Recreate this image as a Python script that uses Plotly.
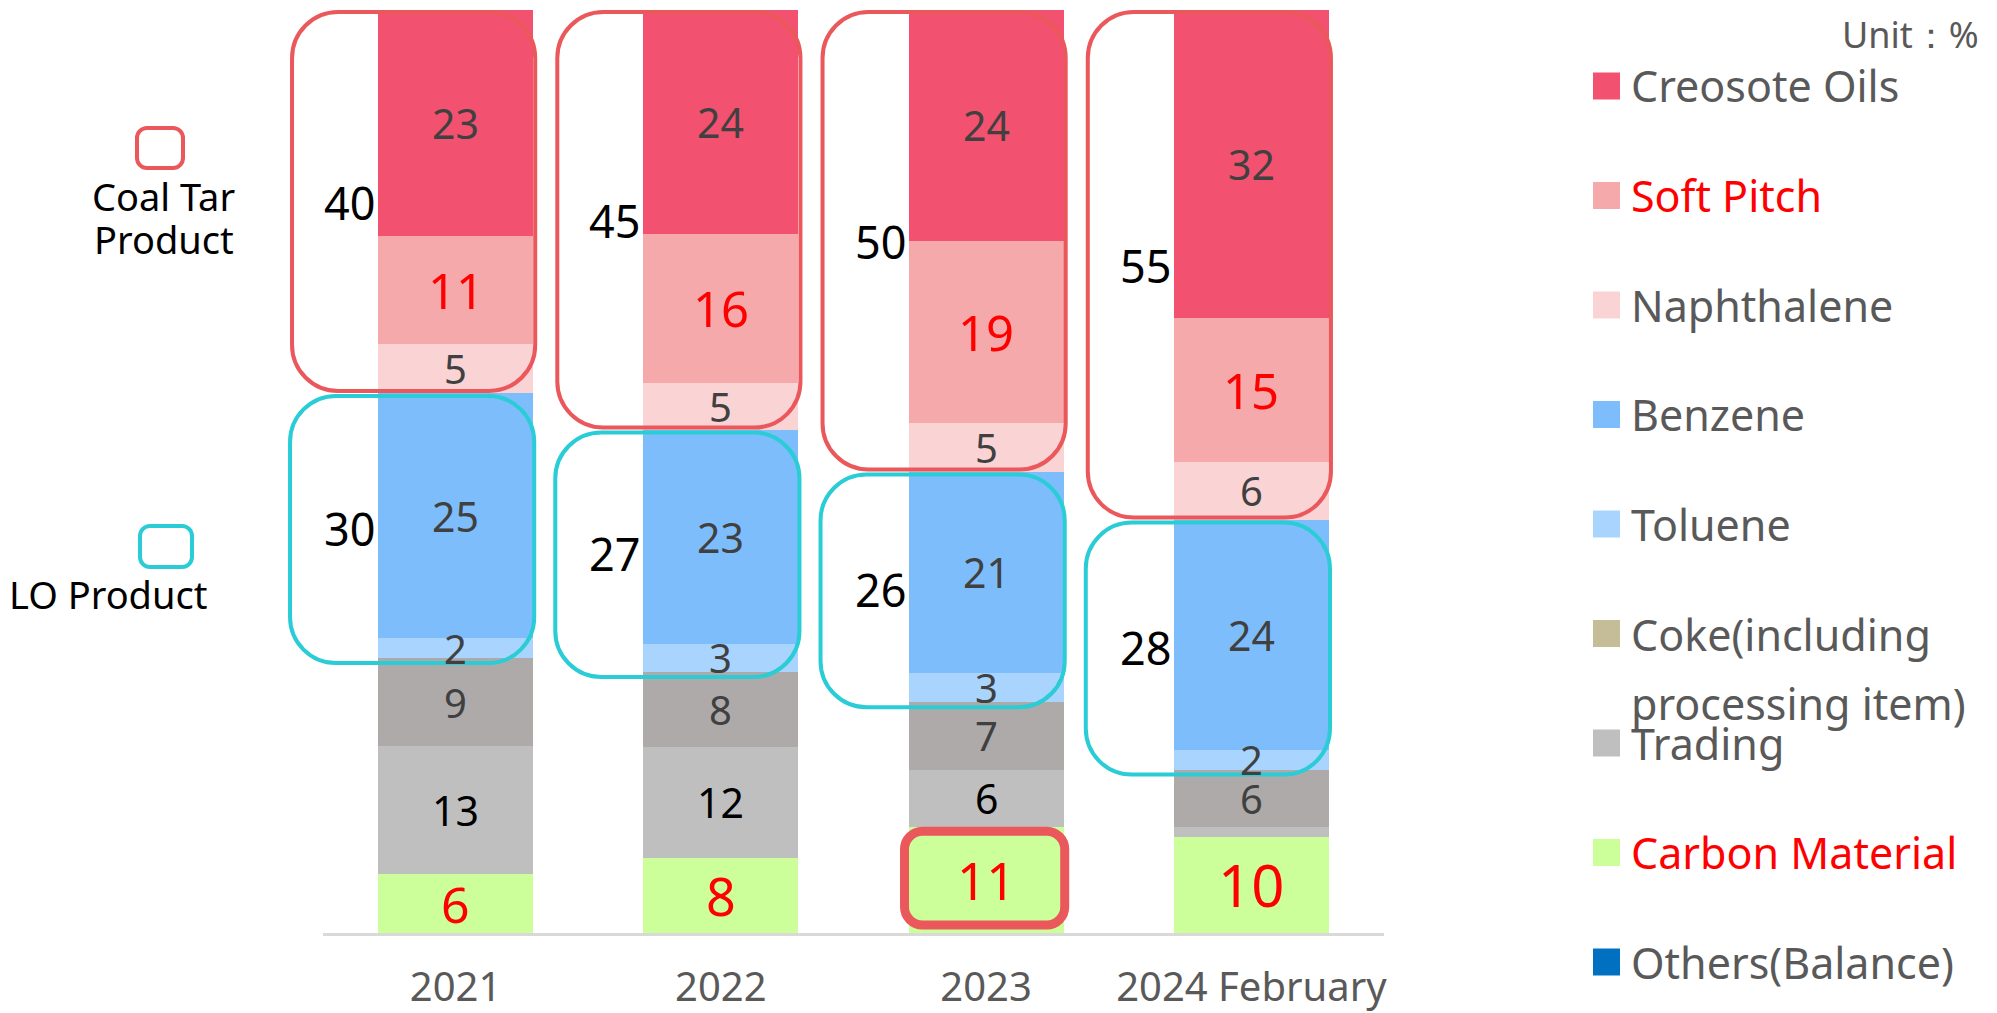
import plotly.graph_objects as go

# ---------------- data ----------------
years = ["2021", "2022", "2023", "2024 February"]

creosote = [23, 24, 24, 32]
soft_pitch = [11, 16, 19, 15]
naphthalene = [5, 5, 5, 6]
benzene = [25, 23, 21, 24]
toluene = [2, 3, 3, 2]
coke = [9, 8, 7, 6]
trading = [13, 12, 6, 1]
carbon = [6, 8, 11, 10]
others = [0, 0, 0, 0]

coal_tar_total = [40, 45, 50, 55]
lo_total = [30, 27, 26, 28]

trading_labels = ["13", "12", "6", ""]

# stacking order bottom -> top
series = [
    ("Others(Balance)", others),
    ("Carbon Material", carbon),
    ("Trading", trading),
    ("Coke(including processing item)", coke),
    ("Toluene", toluene),
    ("Benzene", benzene),
    ("Naphthalene", naphthalene),
    ("Soft Pitch", soft_pitch),
    ("Creosote Oils", creosote),
]

bar_colors = {
    "Creosote Oils": "#F2516F",
    "Soft Pitch": "#F5A9AA",
    "Naphthalene": "#FAD3D5",
    "Benzene": "#7EBDFC",
    "Toluene": "#A9D4FD",
    "Coke(including processing item)": "#AEAAAA",
    "Trading": "#BFBFBF",
    "Carbon Material": "#CCFF99",
    "Others(Balance)": "#0070C0",
}
legend_colors = dict(bar_colors)
legend_colors["Coke(including processing item)"] = "#C4BD97"

label_style = {
    "Creosote Oils": ("#404040", [41, 41, 41, 41]),
    "Soft Pitch": ("#FF0000", [49, 49, 49, 49]),
    "Naphthalene": ("#404040", [40, 40, 40, 40]),
    "Benzene": ("#404040", [41, 41, 41, 41]),
    "Toluene": ("#404040", [40, 40, 40, 40]),
    "Coke(including processing item)": ("#404040", [40, 40, 40, 40]),
    "Trading": ("#000000", [41, 41, 41, 41]),
    "Carbon Material": ("#FF0000", [50, 52, 51, 58]),
}

FONT = "Noto Sans"
OFF = 8                      # page body margin of the html page
W, H = 1997 - OFF, 1013 - OFF
PL_S, PR_S, PT_S, PB_S = 323, 1384, 10, 933   # plot area in screen pixels
L, T = PL_S - OFF, PT_S - OFF
R, B = W - (PR_S - OFF), H - (PB_S - OFF)
PW, PH = PR_S - PL_S, PB_S - PT_S
BARGAP = 0.415
BW = 1 - BARGAP

fig = go.Figure()
for name, vals in series:
    fig.add_trace(go.Bar(
        x=years, y=vals, name=name,
        marker=dict(color=bar_colors[name], line=dict(width=0)),
        showlegend=False, hoverinfo="x+y+name",
    ))

# ---------- helpers (screen pixel -> paper) ----------
def px_x(xd):
    return PL_S + (xd + 0.5) * PW / len(years)

def px_y(yd):
    return PT_S + (100 - yd) * PH / 100.0

def X(p):
    return (p - PL_S) / PW

def Y(p):
    return (PB_S - p) / PH

def rrect(x0, y0, x1, y1, r):
    k = 0.5523 * r
    pts = [
        ("M", [(x0 + r, y0)]),
        ("L", [(x1 - r, y0)]),
        ("C", [(x1 - r + k, y0), (x1, y0 + r - k), (x1, y0 + r)]),
        ("L", [(x1, y1 - r)]),
        ("C", [(x1, y1 - r + k), (x1 - r + k, y1), (x1 - r, y1)]),
        ("L", [(x0 + r, y1)]),
        ("C", [(x0 + r - k, y1), (x0, y1 - r + k), (x0, y1 - r)]),
        ("L", [(x0, y0 + r)]),
        ("C", [(x0, y0 + r - k), (x0 + r - k, y0), (x0 + r, y0)]),
    ]
    s = ""
    for cmd, pp in pts:
        s += cmd + " " + " ".join(f"{X(a):.5f},{Y(b):.5f}" for a, b in pp) + " "
    return s + "Z"

annotations = []
shapes = []

totals = [sum(v[i] for _, v in series) for i in range(len(years))]

# segment labels (normalized %, bar is 100% stacked)
for i in range(len(years)):
    cum = 0.0
    for name, vals in series:
        v = vals[i]
        pct = v / totals[i] * 100
        mid = cum + pct / 2
        cum += pct
        if name == "Others(Balance)":
            continue
        txt = str(v)
        if name == "Trading":
            txt = trading_labels[i]
        if not txt:
            continue
        col, sizes = label_style[name]
        annotations.append(dict(
            x=i, y=mid, xref="x", yref="y", text=txt, showarrow=False,
            font=dict(family=FONT, size=sizes[i], color=col),
            xanchor="center", yanchor="middle",
        ))

# group boxes
for i in range(len(years)):
    t = totals[i]
    coal_bottom_pct = 100 - (creosote[i] + soft_pitch[i] + naphthalene[i]) / t * 100
    lo_bottom_pct = coal_bottom_pct - (benzene[i] + toluene[i]) / t * 100
    bl = px_x(i - BW / 2)
    br = px_x(i + BW / 2)
    top = px_y(100) + 2
    cb = px_y(coal_bottom_pct)
    lb = px_y(lo_bottom_pct)
    shapes.append(dict(type="path", xref="paper", yref="paper",
                       path=rrect(bl - 86, top, br + 2, cb - 2, 46),
                       line=dict(color="#EB585C", width=4), layer="above"))
    shapes.append(dict(type="path", xref="paper", yref="paper",
                       path=rrect(bl - 88, cb + 3, br + 1, lb + 5, 46),
                       line=dict(color="#2ACCD6", width=4), layer="above"))
    annotations.append(dict(
        x=X(bl - 1), y=Y((top + cb) / 2), xref="paper", yref="paper",
        text=str(coal_tar_total[i]), showarrow=False, xanchor="right", yanchor="middle",
        font=dict(family=FONT, size=45, color="#000000")))
    annotations.append(dict(
        x=X(bl - 1), y=Y((cb + lb) / 2 + 3), xref="paper", yref="paper",
        text=str(lo_total[i]), showarrow=False, xanchor="right", yanchor="middle",
        font=dict(family=FONT, size=45, color="#000000")))

# highlight box around 2023 carbon material
hi = years.index("2023")
carbon_top_pct = carbon[hi] / totals[hi] * 100
shapes.append(dict(type="path", xref="paper", yref="paper",
                   path=rrect(px_x(hi - BW / 2) - 4, px_y(carbon_top_pct) + 4,
                              px_x(hi + BW / 2) + 1, px_y(0) - 8, 18),
                   line=dict(color="#EB585C", width=9), layer="above"))

# left group legend
shapes.append(dict(type="path", xref="paper", yref="paper",
                   path=rrect(137, 128, 183, 168, 10),
                   line=dict(color="#EB585C", width=4)))
shapes.append(dict(type="path", xref="paper", yref="paper",
                   path=rrect(140, 526, 192, 567, 10),
                   line=dict(color="#2ACCD6", width=4)))
for txt, cx, cy in [("Coal Tar", 163, 196), ("Product", 164, 239), ("LO Product", 108, 594)]:
    annotations.append(dict(x=X(cx), y=Y(cy), xref="paper", yref="paper", text=txt,
                            showarrow=False, xanchor="center", yanchor="middle",
                            font=dict(family=FONT, size=38, color="#000000")))

# right legend
legend_items = [name for name, _ in series][::-1]
red_items = {"Soft Pitch", "Carbon Material"}
row0, drow = 86, 109.5
for k, name in enumerate(legend_items):
    cy = row0 + k * drow
    shapes.append(dict(type="rect", xref="paper", yref="paper",
                       x0=X(1593), x1=X(1620), y0=Y(cy - 13.5), y1=Y(cy + 13.5),
                       fillcolor=legend_colors[name], line=dict(width=0)))
    col = "#FF0000" if name in red_items else "#595959"
    if name.startswith("Coke"):
        lines = [("Coke(including", cy + 1), ("processing item)", cy + 70)]
    else:
        lines = [(name, cy)]
    for txt, ty in lines:
        annotations.append(dict(x=X(1629), y=Y(ty), xref="paper", yref="paper", text=txt,
                                showarrow=False, xanchor="left", yanchor="middle",
                                font=dict(family=FONT, size=43, color=col)))

annotations.append(dict(x=X(1981), y=Y(35), xref="paper", yref="paper", text="Unit：%",
                        showarrow=False, xanchor="right", yanchor="middle",
                        font=dict(family=FONT, size=36, color="#595959")))

fig.update_layout(
    width=W, height=H,
    margin=dict(l=L, r=R, t=T, b=B, pad=0, autoexpand=False),
    barmode="stack", barnorm="percent", bargap=BARGAP,
    plot_bgcolor="white", paper_bgcolor="white",
    font=dict(family=FONT),
    xaxis=dict(type="category", categoryorder="array", categoryarray=years,
               range=[-0.5, len(years) - 0.5], automargin=False,
               showline=True, linecolor="#D9D9D9", linewidth=3,
               ticks="", showgrid=False, zeroline=False,
               tickfont=dict(family=FONT, size=40, color="#595959"),
               ticklabelstandoff=17),
    yaxis=dict(range=[0, 100], visible=False, showgrid=False, zeroline=False,
               automargin=False),
    shapes=shapes, annotations=annotations,
    showlegend=False,
)

fig.write_html("out.html")
